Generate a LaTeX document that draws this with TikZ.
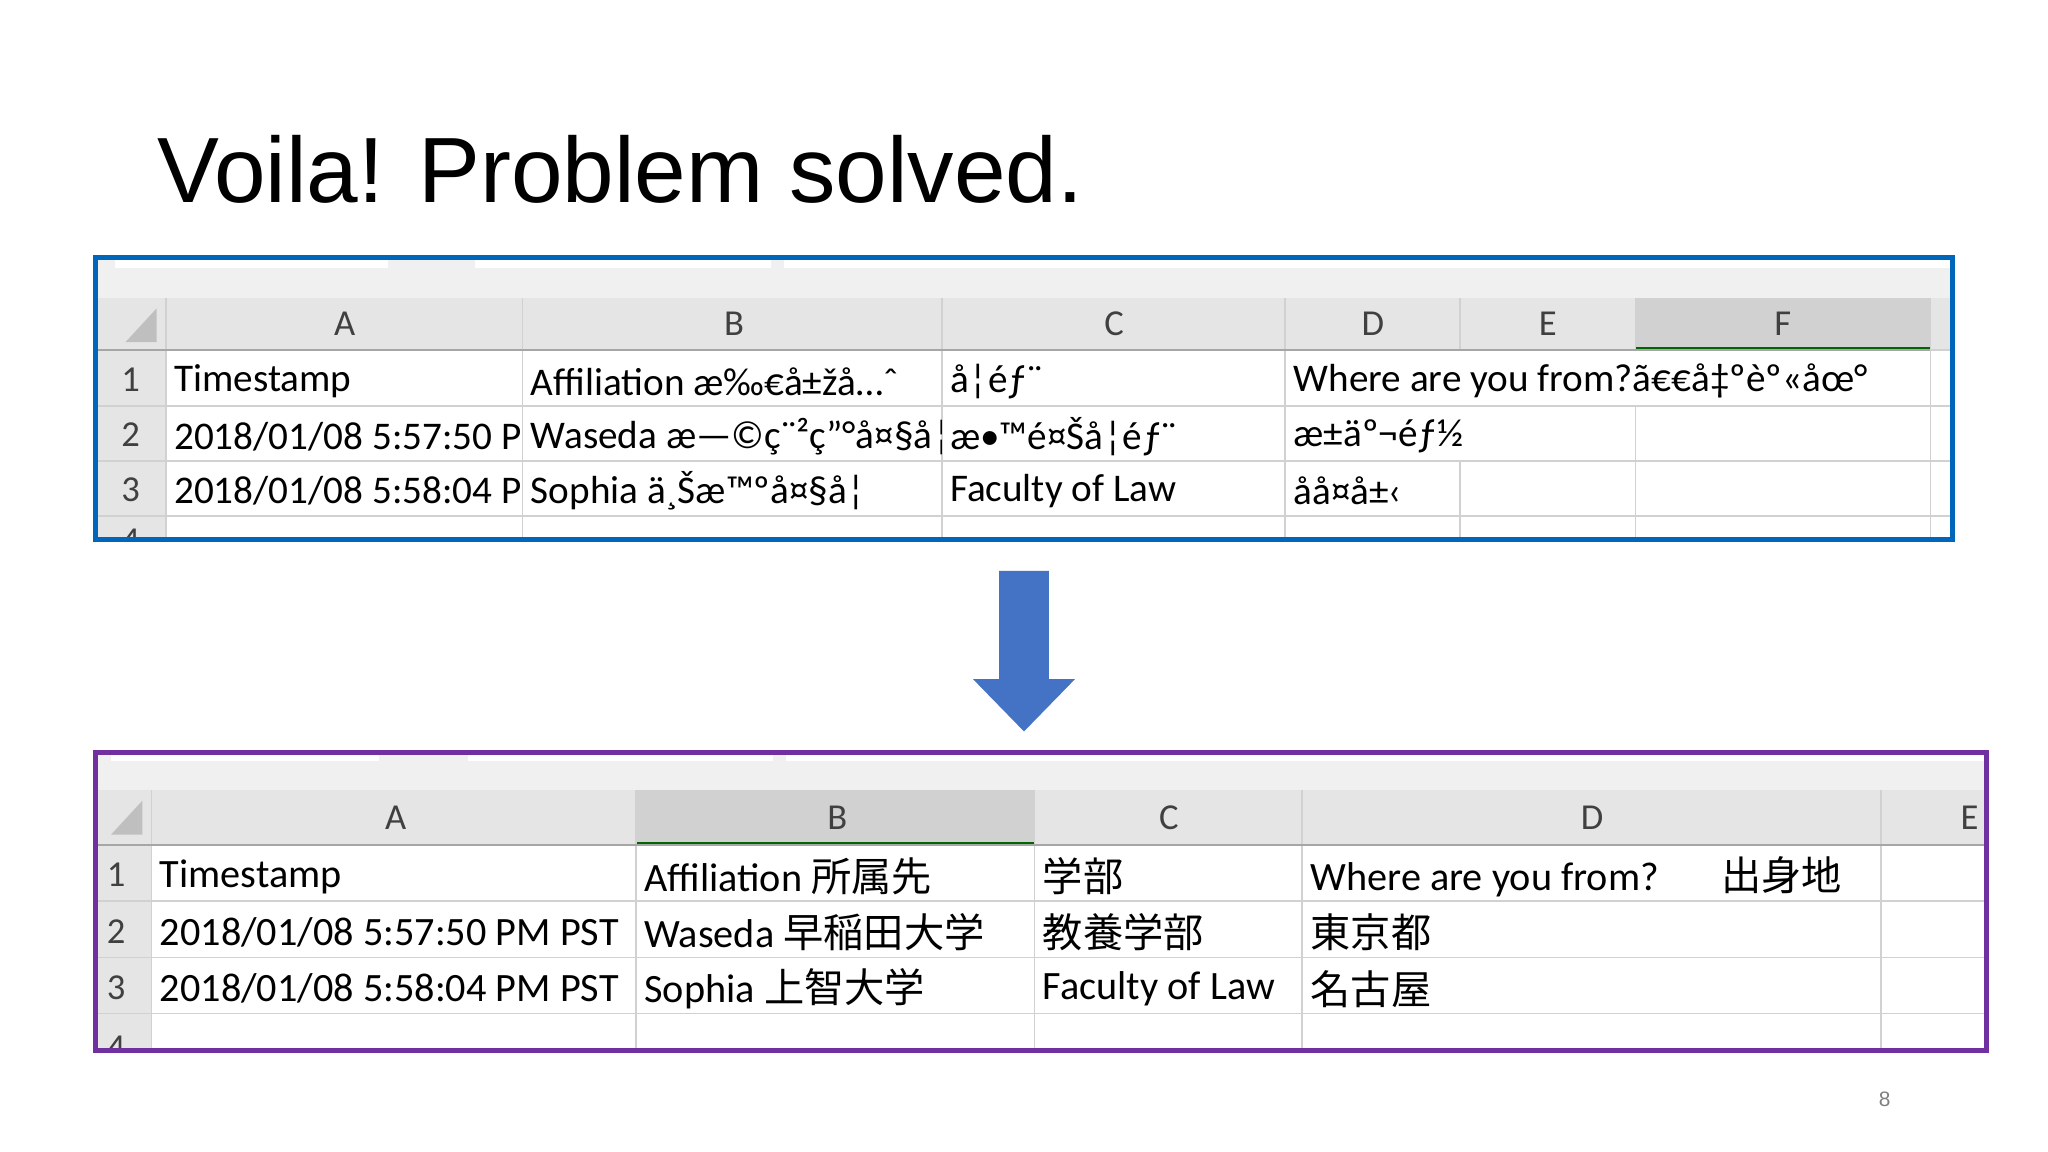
\documentclass[tikz,border=0pt]{standalone}
\usepackage{fontspec}
\setmainfont{Carlito}
\newfontfamily\titlefont{Liberation Sans}
\newfontfamily\cjk{Noto Sans CJK JP}
\begin{document}
\begin{tikzpicture}[x=0.5pt,y=-0.5pt,
  grid/.style={draw=black!18,line width=0.6pt},
  celltxt/.style={anchor=west,inner sep=0pt,font=\fontsize{15}{17}\selectfont},
  bcelltxt/.style={anchor=west,inner sep=0pt,font=\fontsize{15.4}{18}\selectfont},
  coltxt/.style={inner sep=0pt,font=\fontsize{14}{16}\selectfont,text=black!75},
  rownum/.style={inner sep=0pt,font=\fontsize{14}{16}\selectfont,text=black!75}]
\useasboundingbox (0,0) rectangle (1568,882);
\fill[white] (0,0) rectangle (1568,882);
\node[anchor=base west,inner sep=0pt,font=\titlefont\fontsize{35.5}{42}\selectfont] (title) at (120,155) {Voila! Problem solved.};
\newcommand\clipcell[5][celltxt]{\begin{scope}\clip (#2,#4-20) rectangle (#3,#4+20);
  \node[#1] at (#2+6,#4+1) {#5};\end{scope}}
% ---------- top table
\fill[black!6] (73,197) rectangle (1495,228);
\fill[white] (88,199) rectangle (297,205);
\fill[white] (364,199) rectangle (590,205);
\fill[white] (600,199) rectangle (1495,205);
\fill[black!10] (73,228) rectangle (1495,268);
\fill[black!10] (73,268) rectangle (127,413);
\fill[black!18] (1252,228) rectangle (1478,268);
\draw[green!40!black,line width=1.5pt] (1252,267) -- (1478,267);
\fill[black!25] (120,236) -- (120,262) -- (96,262) -- cycle;
\foreach \x in {127,400,721,984,1478} \draw[grid] (\x,228) -- (\x,413);
\draw[grid] (1118,228) -- (1118,268); \draw[grid] (1118,353) -- (1118,413);
\draw[grid] (1252,228) -- (1252,268); \draw[grid] (1252,311) -- (1252,413);
\foreach \y in {268,311,353,395} \draw[grid] (73,\y) -- (1495,\y);
\draw[black!35,line width=0.8pt] (73,268) -- (1478,268);
\foreach \t/\x in {A/264,B/562,C/853,D/1051,E/1185,F/1365} \node[coltxt] (th\t) at (\x,248) {\t};
\foreach \n/\y in {1/291,2/333,3/375} \node[rownum] (tr\n) at (100,\y) {\n};
\begin{scope}\clip (73,395) rectangle (1495,413);
\node[rownum] (tr4) at (100,414) {4};\end{scope}
\clipcell{127}{400}{291}{Timestamp}
\clipcell{127}{400}{333}{2018/01/08 5:57:50 PM PST}
\clipcell{127}{400}{375}{2018/01/08 5:58:04 PM PST}
\clipcell{400}{721}{291}{Affiliation æ‰€å±žå…ˆ}
\clipcell{400}{721}{333}{Waseda æ—©ç¨²ç”°å¤§å­¦}
\clipcell{400}{721}{375}{Sophia ä¸Šæ™ºå¤§å­¦}
\clipcell{721}{984}{291}{å­¦éƒ¨}
\clipcell{721}{984}{333}{æ•™é¤Šå­¦éƒ¨}
\clipcell{721}{984}{375}{Faculty of Law}
\clipcell{984}{1478}{291}{Where are you from?ã€€å‡ºèº«åœ°}
\clipcell{984}{1252}{333}{æ±äº¬éƒ½}
\clipcell{984}{1118}{375}{åå¤å±‹}
\draw[line width=2pt,draw={rgb,255:red,0;green,102;blue,187}] (73,197) rectangle (1495,413);
% ---------- arrow
\fill[fill={rgb,255:red,68;green,114;blue,196}] (765,437) -- (803,437) -- (803,520) -- (823,520) -- (784,560) -- (745,520) -- (765,520) -- cycle;
% ---------- bottom table
\fill[black!6] (73,576) rectangle (1521,605);
\fill[white] (85,578) rectangle (290,583);
\fill[white] (358,578) rectangle (592,583);
\fill[white] (602,578) rectangle (1521,583);
\fill[black!10] (73,605) rectangle (1521,647);
\fill[black!10] (73,647) rectangle (116,804);
\fill[black!18] (487,605) rectangle (792,647);
\draw[green!40!black,line width=1.5pt] (487,646) -- (792,646);
\fill[black!25] (109,613) -- (109,639) -- (85,639) -- cycle;
\foreach \x in {116,487,792,997,1440} \draw[grid] (\x,605) -- (\x,804);
\foreach \y in {647,690,733,776} \draw[grid] (73,\y) -- (1521,\y);
\draw[black!35,line width=0.8pt] (73,647) -- (1521,647);
\foreach \t/\x in {A/303,B/641,C/895,D/1219,E/1508} \node[coltxt] (bh\t) at (\x,626) {\t};
\foreach \n/\y in {1/670,2/713,3/756} \node[rownum] (br\n) at (89,\y) {\n};
\begin{scope}\clip (73,776) rectangle (1521,804);
\node[rownum] (br4) at (89,802) {4};\end{scope}
\clipcell[bcelltxt]{116}{487}{670}{Timestamp}
\clipcell[bcelltxt]{116}{487}{713}{2018/01/08 5:57:50 PM PST}
\clipcell[bcelltxt]{116}{487}{756}{2018/01/08 5:58:04 PM PST}
\clipcell[bcelltxt]{487}{792}{670}{Affiliation {\cjk 所属先}}
\clipcell[bcelltxt]{487}{792}{713}{Waseda {\cjk 早稲田大学}}
\clipcell[bcelltxt]{487}{792}{756}{Sophia {\cjk 上智大学}}
\clipcell[bcelltxt]{792}{997}{670}{{\cjk 学部}}
\clipcell[bcelltxt]{792}{997}{713}{{\cjk 教養学部}}
\clipcell[bcelltxt]{792}{997}{756}{Faculty of Law}
\clipcell[bcelltxt]{997}{1440}{670}{Where are you from?\hspace{24pt}{\cjk 出身地}}
\clipcell[bcelltxt]{997}{1440}{713}{{\cjk 東京都}}
\clipcell[bcelltxt]{997}{1440}{756}{{\cjk 名古屋}}
\draw[line width=2pt,draw={rgb,255:red,112;green,48;blue,160}] (73,576) rectangle (1521,804);
\node[font=\titlefont\fontsize{8}{9}\selectfont,text=black!50] (pg) at (1443,842) {8};
\end{tikzpicture}
\end{document}
